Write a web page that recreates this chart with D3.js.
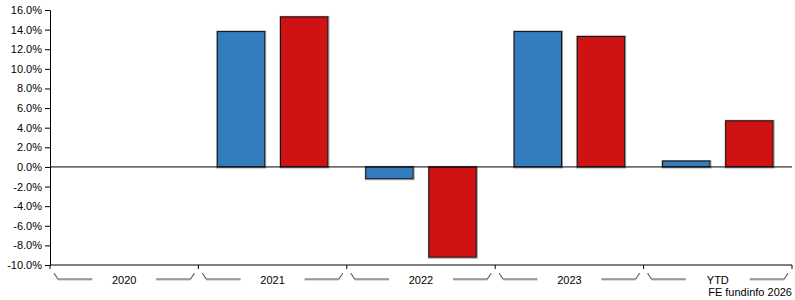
<!DOCTYPE html>
<html>
<head>
<meta charset="utf-8">
<script src="https://cdn.jsdelivr.net/npm/d3@7"></script>
<style>
  body { margin: 0; background: #fff; }
  svg { display: block; font-family: "Liberation Sans", Arial, sans-serif; }
</style>
</head>
<body>
<div id="chart"></div>
<script>
// categories and series
const categories = ['2020', '2021', '2022', '2023', 'YTD']
const fundValues = [null, 13.8, -1.2, 13.8, 0.6]
const sectorValues = [null, 15.3, -9.2, 13.3, 4.7]
const yTicks = [16, 14, 12, 10, 8, 6, 4, 2, 0, -2, -4, -6, -8, -10]

const width = 795
const height = 300
const margin = {top: 10, right: 3, bottom: 35, left: 50}
const gW = width - margin.left - margin.right
const gH = height - margin.top - margin.bottom

const svg = d3.select('#chart')
  .append('svg')
  .attr('width', width)
  .attr('height', height)

const g = svg.append('g')
  .attr('transform', `translate(${margin.left}, ${margin.top})`)

const x = d3.scaleBand().domain(categories).range([0, gW])
const inner = d3.scaleBand().domain(['fund', 'sector']).range([0, x.bandwidth()])
  .paddingInner(0.25).paddingOuter(0.3)
const y = d3.scaleLinear().domain([-10, 16]).range([gH, 0])

// y axis
const yAxis = d3.axisLeft(y).tickValues(yTicks).tickSize(5).tickPadding(3)
  .tickFormat(d => d.toFixed(1) + '%')
const ya = g.append('g').call(yAxis)
ya.select('.domain').attr('stroke', '#000')
ya.selectAll('text').attr('font-size', 11).attr('fill', '#000')
  .attr('font-family', '"Liberation Sans", Arial, sans-serif')

// bars
const series = [
  {key: 'fund', values: fundValues, color: '#337dbf'},
  {key: 'sector', values: sectorValues, color: '#cf1214'}
]
series.forEach(s => {
  const data = categories.map((c, i) => ({c, v: s.values[i]})).filter(d => d.v !== null)
  const gx = d => x(d.c) + inner(s.key)
  // soft shadow
  g.selectAll(null).data(data).enter().append('rect')
    .attr('x', d => gx(d) - 0.5)
    .attr('y', d => Math.min(y(d.v), y(0)) - 0.5)
    .attr('width', inner.bandwidth() + 1.5)
    .attr('height', d => Math.abs(y(d.v) - y(0)) + 1.5)
    .attr('fill', 'none')
    .attr('stroke', '#999')
  g.selectAll(null).data(data).enter().append('rect')
    .attr('x', d => gx(d))
    .attr('y', d => Math.min(y(d.v), y(0)))
    .attr('width', inner.bandwidth())
    .attr('height', d => Math.abs(y(d.v) - y(0)))
    .attr('fill', s.color)
    .attr('stroke', '#111')
    .attr('stroke-width', 1)
})

// zero line
g.append('line')
  .attr('x1', 0).attr('x2', gW)
  .attr('y1', y(0)).attr('y2', y(0))
  .attr('stroke', '#000')

// x axis with boundary ticks
g.append('line')
  .attr('x1', 0).attr('x2', gW)
  .attr('y1', gH).attr('y2', gH)
  .attr('stroke', '#000')
const bounds = categories.map(c => x(c)).concat([gW])
g.selectAll(null).data(bounds).enter().append('line')
  .attr('x1', d => d).attr('x2', d => d)
  .attr('y1', gH).attr('y2', gH + 4)
  .attr('stroke', '#000')

// bracket under each category
const bracket = (b0, b1) => {
  const cx = (b0 + b1) / 2
  const top = gH + 8
  const bot = gH + 14
  return [
    [[b0 + 4, top], [b0 + 8, bot], [cx - 32, bot]],
    [[cx + 32, bot], [b1 - 8, bot], [b1 - 4, top]]
  ]
}
const line = d3.line()
categories.forEach(c => {
  const parts = bracket(x(c), x(c) + x.bandwidth())
  parts.forEach(p => {
    g.append('path').attr('d', line(p.map(([a, b]) => [a, b + 1])))
      .attr('fill', 'none').attr('stroke', '#bbb')
    g.append('path').attr('d', line(p))
      .attr('fill', 'none').attr('stroke', '#555')
  })
  g.append('text')
    .attr('x', x(c) + x.bandwidth() / 2)
    .attr('y', gH + 19)
    .attr('text-anchor', 'middle')
    .attr('font-size', 11)
    .text(c)
})

// credit
svg.append('text')
  .attr('x', width - 3)
  .attr('y', height - 4)
  .attr('text-anchor', 'end')
  .attr('font-size', 11)
  .text('FE fundinfo 2026')
</script>
</body>
</html>
